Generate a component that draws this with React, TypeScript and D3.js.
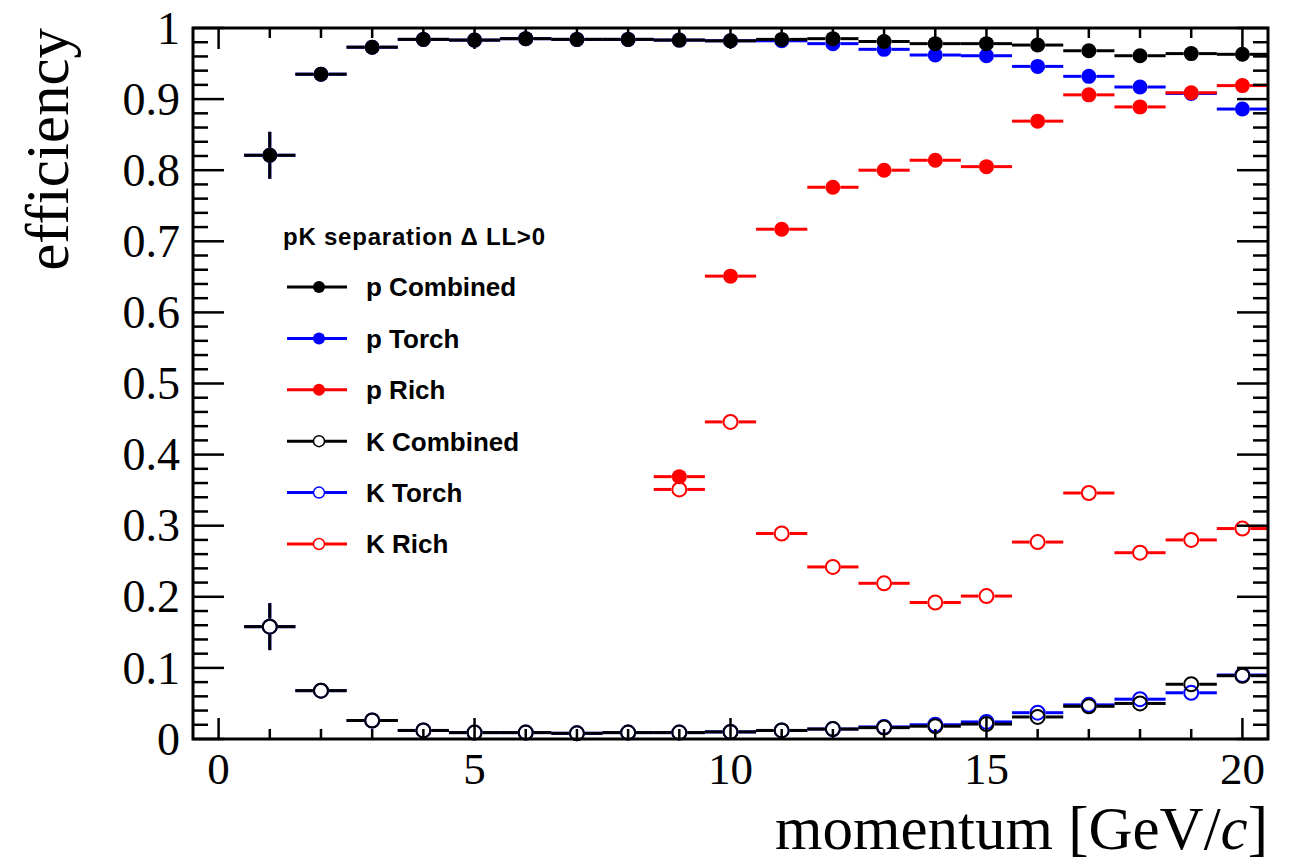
import React from 'react';
import * as d3 from 'd3';

// momentum bins [GeV/c]
const momentum = [1, 2, 3, 4, 5, 6, 7, 8, 9, 10, 11, 12, 13, 14, 15, 16, 17, 18, 19, 20];
const richMomentum = [9, 10, 11, 12, 13, 14, 15, 16, 17, 18, 19, 20];

const pCombined = [0.821, 0.935, 0.973, 0.984, 0.983, 0.985, 0.984, 0.984, 0.983, 0.982, 0.984, 0.985, 0.981, 0.978, 0.978, 0.976, 0.968, 0.961, 0.964, 0.963];
const pTorch = [0.821, 0.935, 0.973, 0.984, 0.983, 0.985, 0.984, 0.984, 0.983, 0.982, 0.982, 0.978, 0.970, 0.962, 0.961, 0.946, 0.932, 0.917, 0.908, 0.886];
const pRich = [0.369, 0.651, 0.717, 0.776, 0.800, 0.814, 0.805, 0.869, 0.906, 0.889, 0.909, 0.919];

const kCombined = [0.158, 0.068, 0.026, 0.012, 0.009, 0.009, 0.008, 0.009, 0.009, 0.010, 0.012, 0.014, 0.016, 0.018, 0.021, 0.031, 0.046, 0.050, 0.077, 0.089];
const kTorch = [0.158, 0.068, 0.026, 0.012, 0.009, 0.009, 0.008, 0.009, 0.009, 0.010, 0.012, 0.014, 0.017, 0.020, 0.024, 0.037, 0.048, 0.056, 0.065, 0.090];
const kRich = [0.351, 0.446, 0.289, 0.242, 0.219, 0.192, 0.201, 0.277, 0.346, 0.262, 0.280, 0.296];

// statistical errors
const pErr = [0.033, 0.009, 0.006, 0.004, 0.004, 0.003, 0.003, 0.003, 0.003, 0.003, 0.003, 0.003, 0.004, 0.004, 0.004, 0.005, 0.005, 0.006, 0.006, 0.006];
const kErr = [0.033, 0.008, 0.005, 0.003, 0.003, 0.003, 0.003, 0.003, 0.003, 0.003, 0.003, 0.003, 0.003, 0.004, 0.004, 0.005, 0.006, 0.006, 0.007, 0.007];
const richErr = [0.008, 0.008, 0.007, 0.007, 0.006, 0.006, 0.006, 0.006, 0.006, 0.006, 0.006, 0.006];

const yTickLabels = ['0', '0.1', '0.2', '0.3', '0.4', '0.5', '0.6', '0.7', '0.8', '0.9', '1'];
const xTickLabels = ['0', '5', '10', '15', '20'];

interface Series {
  label: string;
  x: number[];
  y: number[];
  err: number[];
  color: string;
  open: boolean;
}

const series: Series[] = [
  { label: 'p Combined', x: momentum, y: pCombined, err: pErr, color: '#000000', open: false },
  { label: 'p Torch', x: momentum, y: pTorch, err: pErr, color: '#0000ff', open: false },
  { label: 'p Rich', x: richMomentum, y: pRich, err: richErr, color: '#ff0000', open: false },
  { label: 'K Combined', x: momentum, y: kCombined, err: kErr, color: '#000000', open: true },
  { label: 'K Torch', x: momentum, y: kTorch, err: kErr, color: '#0000ff', open: true },
  { label: 'K Rich', x: richMomentum, y: kRich, err: richErr, color: '#ff0000', open: true },
];

// Torch first, then Rich, Combined on top
const drawOrder = [1, 4, 2, 5, 0, 3];

const W = 1291;
const H = 863;
const left = 193;
const right = 1268;
const top = 28;
const bottom = 739;

const serif = '"Liberation Serif", "Times New Roman", serif';
const sans = '"Liberation Sans", Arial, sans-serif';

export default function App() {
  const x = d3.scaleLinear().domain([-0.5, 20.5]).range([left, right]);
  const y = d3.scaleLinear().domain([0, 1]).range([bottom, top]);

  const R = 7.5;
  const RO = 7;

  const points = (s: Series, key: string) =>
    s.x.map((m, i) => {
      const cx = x(m);
      const cy = y(s.y[i]);
      const r = s.open ? RO + 1 : R;
      const x0 = x(m - 0.5);
      const x1 = x(m + 0.5);
      const yHi = y(s.y[i] + s.err[i]);
      const yLo = y(s.y[i] - s.err[i]);
      return (
        <g key={key + i}>
          <line x1={x0} x2={cx - r} y1={cy} y2={cy} stroke={s.color} strokeWidth={3} />
          <line x1={cx + r} x2={x1} y1={cy} y2={cy} stroke={s.color} strokeWidth={3} />
          {cy - yHi > r && <line x1={cx} x2={cx} y1={cy - r} y2={yHi} stroke={s.color} strokeWidth={3} />}
          {yLo - cy > r && <line x1={cx} x2={cx} y1={cy + r} y2={yLo} stroke={s.color} strokeWidth={3} />}
          {s.open ? (
            <circle cx={cx} cy={cy} r={RO} fill="none" stroke={s.color} strokeWidth={2} />
          ) : (
            <circle cx={cx} cy={cy} r={R} fill={s.color} />
          )}
        </g>
      );
    });

  const xMinor = d3.range(0, 21, 1);
  const yMinor = d3.range(0, 51, 1).map(v => v / 50);

  const legendX = 287;
  const legendY0 = 287;
  const legendStep = 51.4;

  return (
    <svg width={W} height={H} style={{ position: 'absolute', left: 0, top: 0, background: '#fff' }}>
      <rect x={0} y={0} width={W} height={H} fill="#fff" />

      {drawOrder.map(k => points(series[k], 's' + k))}

      {/* ticks */}
      <g stroke="#000" strokeWidth={2.5}>
        {xMinor.map(v => {
          const len = v % 5 === 0 ? 21 : 10;
          return (
            <g key={'xt' + v}>
              <line x1={x(v)} x2={x(v)} y1={bottom} y2={bottom - len} />
              <line x1={x(v)} x2={x(v)} y1={top} y2={top + len} />
            </g>
          );
        })}
        {yMinor.map((v, i) => {
          const len = i % 5 === 0 ? 31 : 15;
          return (
            <g key={'yt' + i}>
              <line x1={left} x2={left + len} y1={y(v)} y2={y(v)} />
              <line x1={right} x2={right - len} y1={y(v)} y2={y(v)} />
            </g>
          );
        })}
      </g>
      <rect x={left} y={top} width={right - left} height={bottom - top} fill="none" stroke="#000" strokeWidth={3} />

      {/* tick labels */}
      {yTickLabels.map(t => (
        <text key={'yl' + t} x={180} y={y(+t)} dy="0.34em" textAnchor="end" fontFamily={serif} fontSize={46}>
          {t}
        </text>
      ))}
      {xTickLabels.map(t => (
        <text key={'xl' + t} x={x(+t)} y={784} textAnchor="middle" fontFamily={serif} fontSize={45}>
          {t}
        </text>
      ))}

      {/* axis titles */}
      <text x={right} y={849} textAnchor="end" fontFamily={serif} fontSize={61}>
        momentum [GeV/<tspan fontStyle="italic">c</tspan>]
      </text>
      <text transform={`translate(68,${top}) rotate(-90)`} textAnchor="end" fontFamily={serif} fontSize={61}>
        efficiency
      </text>

      {/* legend */}
      <text x={283} y={245} fontFamily={sans} fontWeight="bold" fontSize={24} textLength={262} lengthAdjust="spacing">
        pK separation Δ LL&gt;0
      </text>
      {series.map((s, i) => {
        const ly = legendY0 + i * legendStep;
        return (
          <g key={'lg' + i}>
            <line x1={legendX} x2={legendX + 60} y1={ly} y2={ly} stroke={s.color} strokeWidth={3} />
            {s.open ? (
              <circle cx={legendX + 32} cy={ly} r={5.5} fill="#fff" stroke={s.color} strokeWidth={1.5} />
            ) : (
              <circle cx={legendX + 32} cy={ly} r={6} fill={s.color} />
            )}
            <text x={366} y={ly} dy="0.36em" fontFamily={sans} fontWeight="bold" fontSize={26}>
              {s.label}
            </text>
          </g>
        );
      })}
    </svg>
  );
}
